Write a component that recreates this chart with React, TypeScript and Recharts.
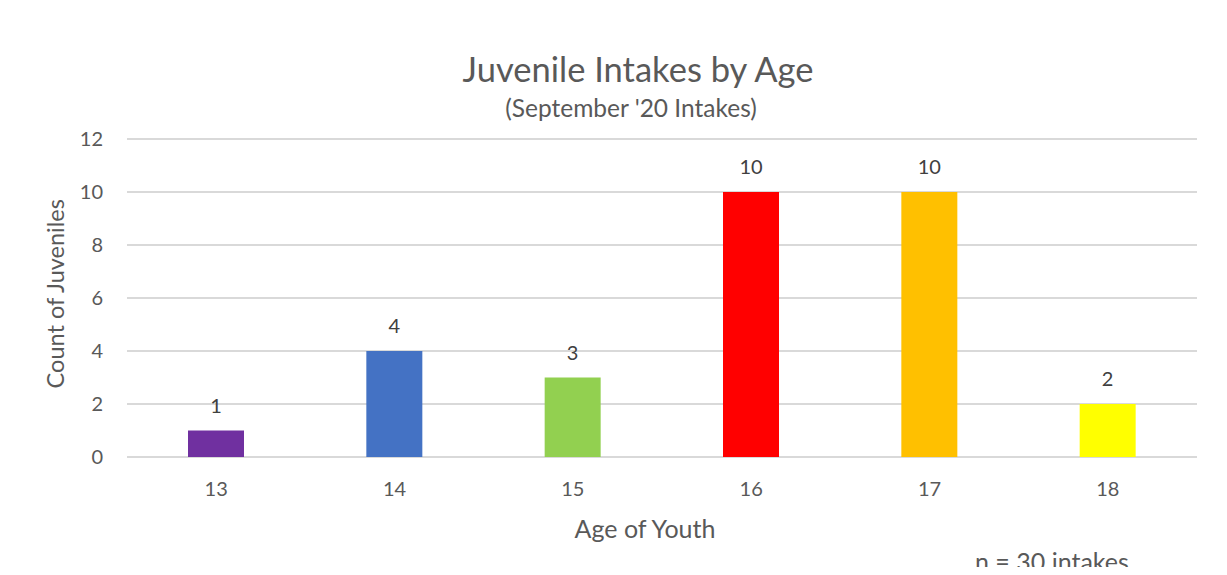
import React from "react";
import { BarChart, Bar, XAxis, YAxis, CartesianGrid, Cell, LabelList } from "recharts";

const ages = ["13", "14", "15", "16", "17", "18"];
const counts = [1, 4, 3, 10, 10, 2];
const barColors = ["#7030A0", "#4472C4", "#92D050", "#FF0000", "#FFC000", "#FFFF00"];
const yTicks = [0, 2, 4, 6, 8, 10, 12];

const data = ages.map((age, i) => ({ age, count: counts[i] }));

const FONT = "Lato, 'Open Sans', sans-serif";
const EDGE = "#d9d9d9";

export default function App() {
  return (
    <div style={{ position: "relative", width: 1227, height: 575, margin: -8, overflow: "hidden", background: "#fff", fontFamily: FONT }}>
      <div style={{ position: "absolute", left: 0, top: 0 }}>
        <BarChart width={1227} height={575} data={data} margin={{ top: 139, right: 30, bottom: 58, left: 0 }}>
          <CartesianGrid vertical={false} stroke="#d9d9d9" strokeWidth={2} />
          <XAxis
            dataKey="age"
            axisLine={false}
            tickLine={false}
            height={60}
            tickMargin={19}
            tick={{ fill: "#595959", fontSize: 20, fontFamily: FONT }}
          />
          <YAxis
            domain={[0, 12]}
            ticks={yTicks}
            width={127}
            axisLine={false}
            tickLine={false}
            tickMargin={18}
            tick={{ fill: "#595959", fontSize: 20, fontFamily: FONT }}
          />
          <Bar dataKey="count" barSize={56} isAnimationActive={false}>
            {data.map((d, i) => (
              <Cell key={d.age} fill={barColors[i]} />
            ))}
            <LabelList dataKey="count" position="top" offset={18} fill="#404040" fontSize={20} fontFamily={FONT} />
          </Bar>
        </BarChart>
      </div>
      <div style={{ position: "absolute", left: 338, width: 600, top: 52, textAlign: "center", fontSize: 34.5, lineHeight: 1, color: "#595959", whiteSpace: "nowrap" }}>
        Juvenile Intakes by Age
      </div>
      <div style={{ position: "absolute", left: 331, width: 600, top: 96, textAlign: "center", fontSize: 24.5, lineHeight: 1, color: "#595959", whiteSpace: "nowrap" }}>
        (September '20 Intakes)
      </div>
      <div style={{ position: "absolute", left: 445, width: 400, top: 516, textAlign: "center", fontSize: 25, lineHeight: 1, color: "#595959", whiteSpace: "nowrap" }}>
        Age of Youth
      </div>
      <div style={{ position: "absolute", left: 975, top: 549, fontSize: 25, lineHeight: 1, color: "#595959", whiteSpace: "nowrap" }}>
        n = 30 intakes
      </div>
      <div style={{ position: "absolute", left: 56 - 150, top: 294 - 11.75, width: 300, height: 23.5, textAlign: "center", fontSize: 23.5, lineHeight: 1, color: "#595959", transform: "rotate(-90deg)", whiteSpace: "nowrap" }}>
        Count of Juveniles
      </div>
      <svg width={1227} height={575} style={{ position: "absolute", left: 0, top: 0, pointerEvents: "none" }}>
        <rect x={6} y={6} width={1219} height={600} fill="none" stroke={EDGE} strokeWidth={2} />
      </svg>
    </div>
  );
}
